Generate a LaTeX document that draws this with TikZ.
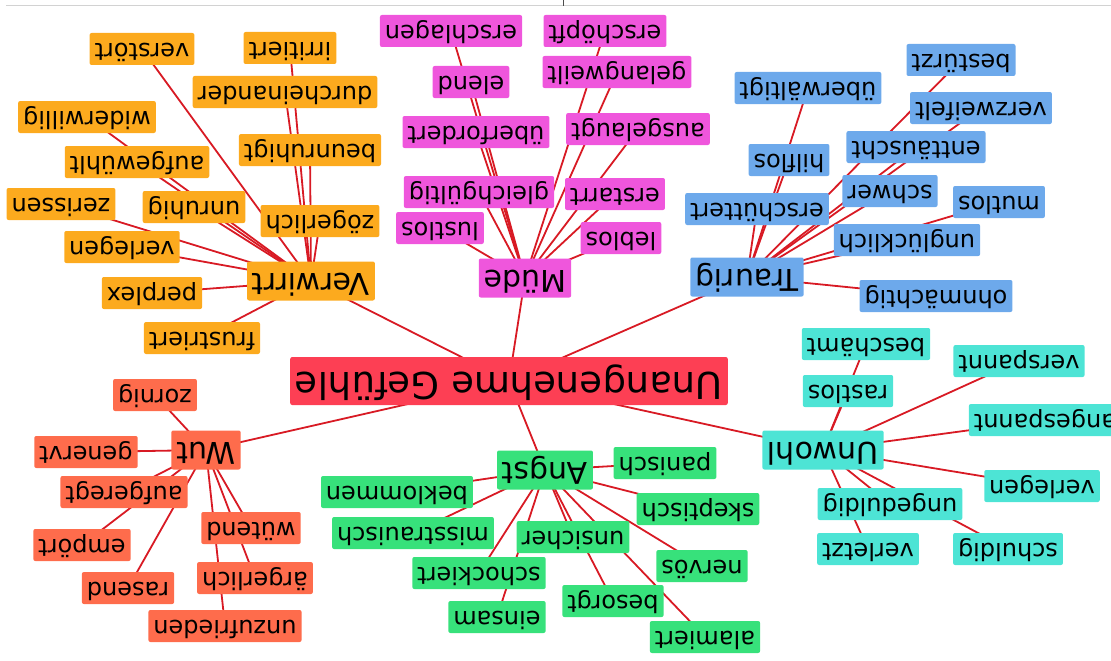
\documentclass[tikz,border=0pt]{standalone}
\usepackage{fontspec}
\setmainfont{DejaVu Sans}
\pgfdeclarelayer{background}
\pgfsetlayers{background,main}
\definecolor{cOrange}{HTML}{FCAA1E}
\definecolor{cMagenta}{HTML}{EF56DC}
\definecolor{cBlue}{HTML}{6DA9EB}
\definecolor{cMain}{HTML}{FD3F54}
\definecolor{cCoral}{HTML}{FE6C4C}
\definecolor{cGreen}{HTML}{37E17B}
\definecolor{cTurq}{HTML}{4DE4D5}
\definecolor{cEdge}{HTML}{D81A24}
\tikzset{
  lbl/.style={rotate=180, rounded corners=2pt, inner xsep=5pt, inner ysep=4.5pt,
    text height=17pt, text depth=6pt, font=\fontsize{24}{24}\selectfont, text=black},
  catlbl/.style={lbl, inner ysep=5pt, text height=22pt, text depth=7pt, font=\fontsize{30}{30}\selectfont},
  mainlbl/.style={lbl, inner ysep=6pt, text height=27pt, text depth=9pt, font=\fontsize{37}{37}\selectfont, fill=cMain},
  org/.style={lbl, fill=cOrange}, orgc/.style={catlbl, fill=cOrange},
  mag/.style={lbl, fill=cMagenta}, magc/.style={catlbl, fill=cMagenta},
  blu/.style={lbl, fill=cBlue}, bluc/.style={catlbl, fill=cBlue},
  cor/.style={lbl, fill=cCoral}, corc/.style={catlbl, fill=cCoral},
  grn/.style={lbl, fill=cGreen}, grnc/.style={catlbl, fill=cGreen},
  tur/.style={lbl, fill=cTurq}, turc/.style={catlbl, fill=cTurq},
  edge/.style={draw=cEdge, line width=1.8pt}
}
\begin{document}
\begin{tikzpicture}[x=1pt,y=-1pt]
\useasboundingbox (0,0) rectangle (1111,661);
\draw[gray!35, line width=1pt] (6,6) -- (1111,6);
\draw[black!70, line width=1pt] (563,0) -- (563,6);
% main
\node[mainlbl] (main) at (509,381) {Unangenehme Gefühle};
% Verwirrt
\node[orgc] (verw) at (311,281) {Verwirrt};
\node[org] (verstoert) at (142,49) {verstört};
\node[org] (irritiert) at (290,48) {irritiert};
\node[org] (durch) at (285,92) {durcheinander};
\node[org] (wider) at (87,117) {widerwillig};
\node[org] (beunr) at (310,150) {beunruhigt};
\node[org] (aufgew) at (137,162) {aufgewühlt};
\node[org] (zeriss) at (61,204) {zerissen};
\node[org] (unruhig) at (194,207) {unruhig};
\node[org] (zoeger) at (320,221) {zögerlich};
\node[org] (verlegenA) at (122,247) {verlegen};
\node[org] (perplex) at (152,293) {perplex};
\node[org] (frustr) at (202,338) {frustriert};
% Muede
\node[magc] (muede) at (525,278) {Müde};
\node[mag] (erschl) at (451,31) {erschlagen};
\node[mag] (erschoe) at (605,31) {erschöpft};
\node[mag] (elend) at (471,82) {elend};
\node[mag] (gelang) at (617,72) {gelangweilt};
\node[mag] (ueberf) at (476,132) {überfordert};
\node[mag] (ausgel) at (638,129) {ausgelaugt};
\node[mag] (gleich) at (479,192) {gleichgültig};
\node[mag] (erstarrt) at (615,194) {erstarrt};
\node[mag] (lustlos) at (440,228) {lustlos};
\node[mag] (leblos) at (621,238) {leblos};
% Traurig
\node[bluc] (traurig) at (747,277) {Traurig};
\node[blu] (bestuerzt) at (961,60) {bestürzt};
\node[blu] (ueberw) at (808,88) {überwältigt};
\node[blu] (verzw) at (981,108) {verzweifelt};
\node[blu] (entt) at (916,147) {enttäuscht};
\node[blu] (hilflos) at (789,160) {hilflos};
\node[blu] (schwer) at (890,191) {schwer};
\node[blu] (erschue) at (757,209) {erschüttert};
\node[blu] (mutlos) at (999,202) {mutlos};
\node[blu] (ungl) at (907,240) {unglücklich};
\node[blu] (ohnm) at (936,296) {ohnmächtig};
% Wut
\node[corc] (wut) at (206,450) {Wut};
\node[cor] (zornig) at (155,395) {zornig};
\node[cor] (genervt) at (86,452) {genervt};
\node[cor] (aufger) at (124,492) {aufgeregt};
\node[cor] (empoert) at (82,545) {empört};
\node[cor] (wuetend) at (251,528) {wütend};
\node[cor] (rasend) at (128,588) {rasend};
\node[cor] (aerger) at (255,578) {ärgerlich};
\node[cor] (unzuf) at (225,626) {unzufrieden};
% Angst
\node[grnc] (angst) at (545,470) {Angst};
\node[grn] (panisch) at (665,463) {panisch};
\node[grn] (beklom) at (397,492) {beklommen};
\node[grn] (skept) at (698,509) {skeptisch};
\node[grn] (misstr) at (413,533) {misstrauisch};
\node[grn] (unsicher) at (573,537) {unsicher};
\node[grn] (nervoes) at (702,566) {nervös};
\node[grn] (schock) at (479,573) {schockiert};
\node[grn] (besorgt) at (613,601) {besorgt};
\node[grn] (einsam) at (497,617) {einsam};
\node[grn] (alam) at (705,637) {alamiert};
% Unwohl
\node[turc] (unwohl) at (823,450) {Unwohl};
\node[tur] (bescham) at (866,344) {beschämt};
\node[tur] (verspannt) at (1019,361) {verspannt};
\node[tur] (rastlos) at (848,391) {rastlos};
\node[tur] (angesp) at (1045,420) {angespannt};
\node[tur] (verlegenB) at (1042,486) {verlegen};
\node[tur] (ungeduld) at (890,504) {ungeduldig};
\node[tur] (verletzt) at (868,549) {verletzt};
\node[tur] (schuldig) at (1008,549) {schuldig};
\begin{pgfonlayer}{background}
\foreach \c in {verw,muede,traurig,wut,angst,unwohl}
  \draw[edge] (main.center) -- (\c.center);
\foreach \c in {verstoert,irritiert,durch,wider,beunr,aufgew,zeriss,unruhig,zoeger,verlegenA,perplex,frustr}
  \draw[edge] (verw.center) -- (\c.center);
\foreach \c in {erschl,erschoe,elend,gelang,ueberf,ausgel,gleich,erstarrt,lustlos,leblos}
  \draw[edge] (muede.center) -- (\c.center);
\foreach \c in {bestuerzt,ueberw,verzw,entt,hilflos,schwer,erschue,mutlos,ungl,ohnm}
  \draw[edge] (traurig.center) -- (\c.center);
\foreach \c in {zornig,genervt,aufger,empoert,wuetend,rasend,aerger,unzuf}
  \draw[edge] (wut.center) -- (\c.center);
\foreach \c in {panisch,beklom,skept,misstr,unsicher,nervoes,schock,besorgt,einsam,alam}
  \draw[edge] (angst.center) -- (\c.center);
\foreach \c in {bescham,verspannt,rastlos,angesp,verlegenB,ungeduld,verletzt,schuldig}
  \draw[edge] (unwohl.center) -- (\c.center);
\end{pgfonlayer}
\end{tikzpicture}
\end{document}
